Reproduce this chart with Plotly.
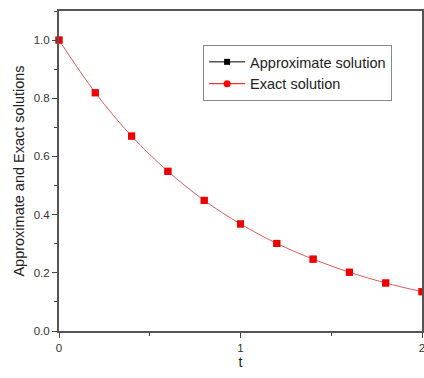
import plotly.graph_objects as go

t = [0.0, 0.2, 0.4, 0.6, 0.8, 1.0, 1.2, 1.4, 1.6, 1.8, 2.0]
approx = [1.0, 0.819, 0.670, 0.549, 0.449, 0.368, 0.301, 0.247, 0.202, 0.165, 0.135]
exact = [1.0, 0.819, 0.670, 0.549, 0.449, 0.368, 0.301, 0.247, 0.202, 0.165, 0.135]
x_ticks = [0, 1, 2]
y_ticks = [0.0, 0.2, 0.4, 0.6, 0.8, 1.0]

FONT = "Liberation Sans, Arial"

fig = go.Figure()
# plotted data (markers as they appear in the picture)
fig.add_trace(go.Scatter(x=t, y=approx, mode="markers", showlegend=False,
                         marker=dict(symbol="square", size=7, color="#ee0000"),
                         cliponaxis=False))
fig.add_trace(go.Scatter(x=t, y=exact, mode="lines+markers", showlegend=False,
                         line=dict(color="#e05a5a", width=1, shape="spline"),
                         marker=dict(symbol="square", size=7, color="#ee0000"),
                         cliponaxis=False))
# legend entries
fig.add_trace(go.Scatter(x=[None], y=[None], mode="lines+markers", name="Approximate solution",
                         line=dict(color="black", width=1),
                         marker=dict(symbol="square", size=6, color="black")))
fig.add_trace(go.Scatter(x=[None], y=[None], mode="lines+markers", name="Exact solution",
                         line=dict(color="red", width=1),
                         marker=dict(symbol="circle", size=7, color="red")))

axis_common = dict(showline=True, linecolor="#555555", linewidth=2, mirror=True,
                   showgrid=False, zeroline=False, ticks="outside", ticklen=5,
                   tickcolor="#444444", tickwidth=1, automargin=False,
                   ticklabeloverflow="allow",
                   tickfont=dict(family=FONT, size=11.5, color="#333333"))

fig.update_layout(
    width=424, height=378,
    margin=dict(l=59, r=2, t=11, b=47),
    paper_bgcolor="white", plot_bgcolor="white",
    xaxis=dict(range=[0, 2], tickvals=x_ticks, ticktext=[str(v) for v in x_ticks],
               minor=dict(ticks="outside", ticklen=3, dtick=0.5, tickcolor="#444444"),
               title=dict(text="t", font=dict(family=FONT, size=14, color="#222222"), standoff=4),
               **axis_common),
    yaxis=dict(range=[0, 1.1], tickvals=y_ticks, ticktext=[f"{v:.1f}" for v in y_ticks],
               minor=dict(ticks="outside", ticklen=3, dtick=0.1, tickcolor="#444444"),
               title=dict(text="Approximate and Exact solutions", font=dict(family=FONT, size=14.5, color="#222222"), standoff=6),
               **axis_common),
    legend=dict(x=0.397, y=0.894, xanchor="left", yanchor="top",
                bordercolor="#888888", borderwidth=1, bgcolor="white",
                font=dict(family=FONT, size=14.5, color="#222222"),
                tracegroupgap=0, itemwidth=36),
)

fig.write_html("out.html", config={"displayModeBar": False},
               post_script="document.body.style.margin='0';document.body.style.overflow='hidden';")
